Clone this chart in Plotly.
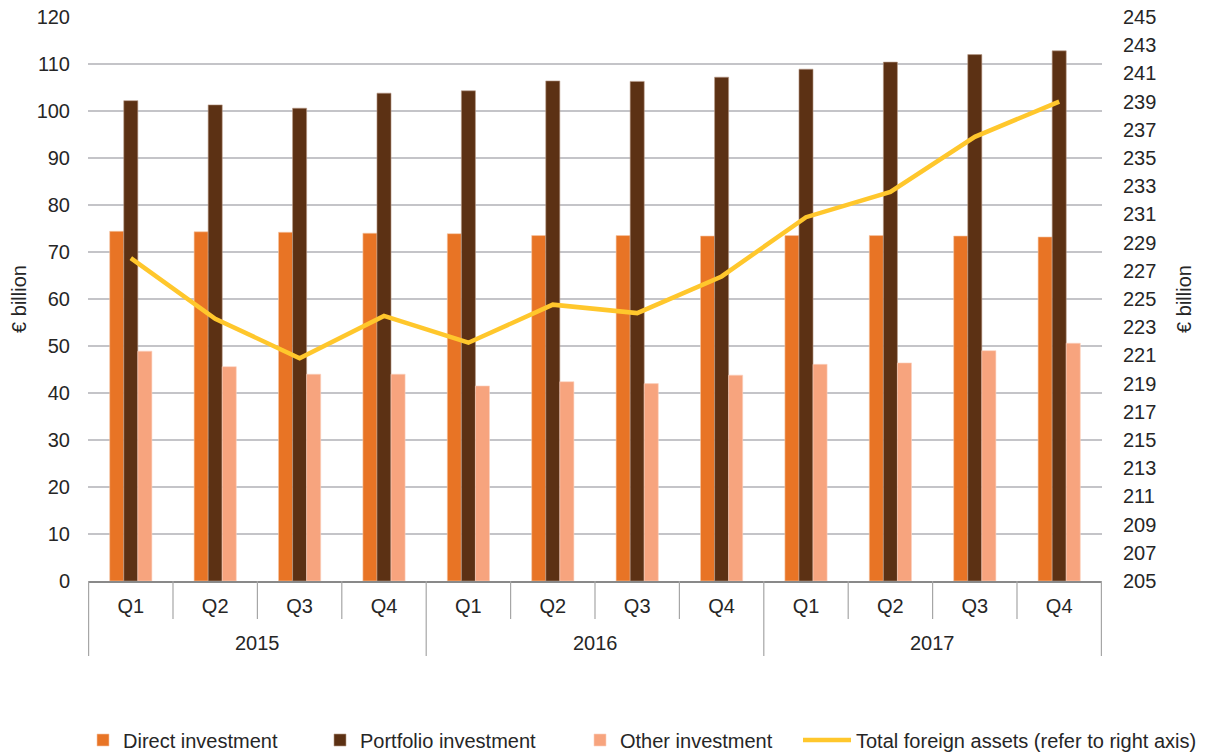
import plotly.graph_objects as go

years = ["2015", "2016", "2017"]
quarters = ["Q1", "Q2", "Q3", "Q4"]

direct = [74.4, 74.3, 74.2, 74.0, 73.9, 73.5, 73.5, 73.4, 73.5, 73.5, 73.4, 73.2]
portfolio = [102.2, 101.3, 100.6, 103.8, 104.3, 106.4, 106.3, 107.2, 108.9, 110.4, 112.0, 112.8]
other = [48.9, 45.6, 44.0, 44.0, 41.5, 42.4, 42.0, 43.8, 46.1, 46.4, 49.0, 50.6]
total = [227.9, 223.6, 220.8, 223.8, 221.9, 224.6, 224.0, 226.6, 230.8, 232.6, 236.5, 239.0]

left_ticks = list(range(0, 121, 10))
right_ticks = list(range(205, 246, 2))

categories = [f"{y} {q}" for y in years for q in quarters]
cat_text = [q for y in years for q in quarters]

font_family = "Liberation Sans, Arial, sans-serif"
text_color = "#262626"
fs = 20
divider_color = "#A6A6A6"

W, H = 1204, 748
ML, MT = 80, 9
PLOT_W, PLOT_H = 1014, 564
MR = W - ML - PLOT_W
MB = H - MT - PLOT_H

fig = go.Figure()
fig.add_trace(go.Bar(x=categories, y=direct, name="Direct investment", marker_color="#E87425",
                     marker_line_width=0.6, marker_line_color="#F5C7A8", legend="legend"))
fig.add_trace(go.Bar(x=categories, y=portfolio, name="Portfolio investment", marker_color="#5C3114",
                     marker_line_width=0.6, marker_line_color="#B89A88", legend="legend2"))
fig.add_trace(go.Bar(x=categories, y=other, name="Other investment", marker_color="#F7A47E",
                     marker_line_width=0.6, marker_line_color="#FBD2BF", legend="legend3"))
fig.add_trace(go.Scatter(x=categories, y=total, name="Total foreign assets (refer to right axis)",
                         mode="lines", line=dict(color="#FFC72C", width=4.5), yaxis="y2",
                         legend="legend4"))

# category-axis dividers and year labels (axis decoration)
shapes = []
annotations = []
n_q = len(quarters)
for i in range(len(categories) + 1):
    is_year = (i % n_q == 0)
    y_end = -(75 if is_year else 38) / PLOT_H
    shapes.append(dict(type="line", xref="x", yref="paper", x0=i - 0.5, x1=i - 0.5,
                       y0=0, y1=y_end, line=dict(color=divider_color, width=1.2)))
for j, yr in enumerate(years):
    annotations.append(dict(text=yr, xref="x", yref="paper", x=j * n_q + (n_q - 1) / 2,
                            y=-62 / PLOT_H, showarrow=False, yanchor="middle",
                            font=dict(size=fs, color=text_color, family=font_family)))


def legend_at(px_left, itemwidth=30):
    return dict(orientation="h", xref="container", yref="container",
                x=px_left / W, xanchor="left", y=1 - 732 / H, yanchor="middle",
                font=dict(size=fs, color=text_color), itemwidth=itemwidth,
                bgcolor="rgba(0,0,0,0)")


fig.update_layout(
    width=W, height=H,
    margin=dict(l=ML, r=MR, t=MT, b=MB, autoexpand=False),
    paper_bgcolor="white", plot_bgcolor="white",
    font=dict(family=font_family, size=fs, color=text_color),
    barmode="group", bargap=0.5, bargroupgap=0,
    showlegend=True,
    legend=legend_at(75),
    legend2=legend_at(312),
    legend3=legend_at(572),
    legend4=legend_at(790, itemwidth=48),
    xaxis=dict(type="category", categoryorder="array", categoryarray=categories,
               tickvals=categories, ticktext=cat_text,
               showline=True, linecolor="#898989", linewidth=2,
               ticks="outside", ticklen=6, tickcolor="rgba(0,0,0,0)",
               tickfont=dict(size=fs, color=text_color), showgrid=False, automargin=False),
    yaxis=dict(range=[0, 120], tickvals=left_ticks, showgrid=True, gridcolor="#C4C4C8",
               gridwidth=1.5, zeroline=False, ticks="outside", ticklen=13,
               tickcolor="rgba(0,0,0,0)", tickfont=dict(size=fs, color=text_color),
               automargin=False, ticklabeloverflow="allow",
               title=dict(text="€ billion", font=dict(size=fs, color=text_color), standoff=10)),
    yaxis2=dict(range=[205, 245], tickvals=right_ticks, overlaying="y", side="right",
                showgrid=False, zeroline=False, ticks="outside", ticklen=16,
                tickcolor="rgba(0,0,0,0)", tickfont=dict(size=fs, color=text_color),
                automargin=False, ticklabeloverflow="allow",
                title=dict(text="€ billion", font=dict(size=fs, color=text_color), standoff=21)),
    shapes=shapes,
    annotations=annotations,
)

fig.write_html("out.html")
